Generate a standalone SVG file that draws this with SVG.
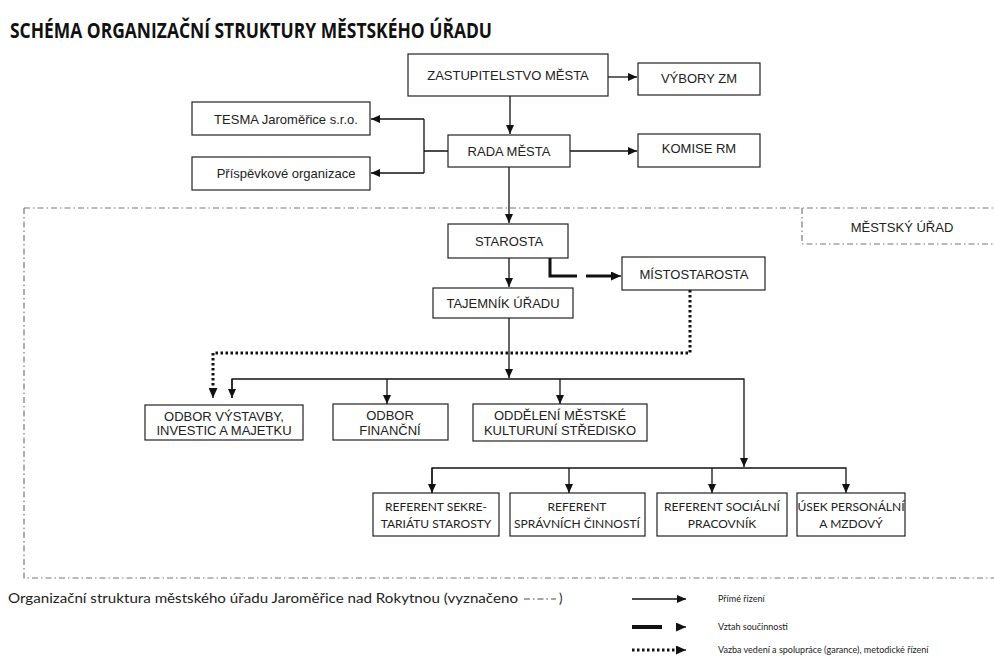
<svg xmlns="http://www.w3.org/2000/svg" width="994" height="657" viewBox="0 0 994 657">
<defs>
<marker id="ah" markerWidth="9" markerHeight="8" refX="9" refY="4" orient="auto" markerUnits="userSpaceOnUse"><path d="M0,0 L9,4 L0,8 Z" fill="#111"/></marker>
<marker id="ahb" markerWidth="10" markerHeight="9" refX="10" refY="4.5" orient="auto" markerUnits="userSpaceOnUse"><path d="M0,0 L10,4.5 L0,9 Z" fill="#111"/></marker>
<style>
.box{fill:#fff;stroke:#222;stroke-width:1.2}
.t{font-family:"Liberation Sans",Arial,sans-serif;font-size:13px;fill:#222;text-anchor:middle}
.c{font-family:Lato,"Open Sans",sans-serif;font-size:12px;fill:#222;text-anchor:middle}
.ln{fill:none;stroke:#111;stroke-width:1.3}
.thick{fill:none;stroke:#111;stroke-width:3}
.dot{fill:none;stroke:#111;stroke-width:3;stroke-dasharray:2.5 2.5}
.dd{fill:none;stroke:#777;stroke-width:1.2;stroke-dasharray:6 3 1.5 3}
.lg{font-family:Lato,"Open Sans",sans-serif;font-size:9px;fill:#222}
</style>
</defs>
<rect width="994" height="657" fill="#fff"/>
<text x="10" y="38" font-family="'Open Sans',Lato,sans-serif" font-weight="bold" font-size="21" fill="#111" textLength="482" lengthAdjust="spacingAndGlyphs">SCHÉMA ORGANIZAČNÍ STRUKTURY MĚSTSKÉHO ÚŘADU</text>

<g id="border">
<path class="dd" d="M24,208 H994 M24,208 V578 H994"/>
<path class="dd" d="M802,208 V244 H994"/>
<text x="902" y="232" class="t" fill="#444">MĚSTSKÝ ÚŘAD</text>
</g>

<g id="connectors">
<path class="ln" d="M510,96 V134" marker-end="url(#ah)"/>
<path class="ln" d="M608,77 H637" marker-end="url(#ah)"/>
<path class="ln" d="M570,151 H637" marker-end="url(#ah)"/>
<path class="ln" d="M448,151 H424 M424,119 V173"/>
<path class="ln" d="M424,119 H371" marker-end="url(#ah)"/>
<path class="ln" d="M424,173 H371" marker-end="url(#ah)"/>
<path class="ln" d="M509,167 V223" marker-end="url(#ah)"/>
<path class="ln" d="M509,258 V287" marker-end="url(#ah)"/>
<path class="thick" d="M550,258 V276 H577"/>
<path class="thick" d="M586,276 H612"/>
<path class="ln" d="M612,276 H621" marker-end="url(#ahb)"/>
<path class="dot" d="M690,290 V353 H213 V389"/>
<path class="ln" d="M213,389 V398" marker-end="url(#ahb)"/>
<path class="ln" d="M509,318 V378" marker-end="url(#ah)"/>
<path class="ln" d="M232,398 V379 H744 V467" marker-end="url(#ah)"/>
<path class="ln" d="M387,379 V404" marker-end="url(#ah)"/>
<path class="ln" d="M560,379 V404" marker-end="url(#ah)"/>
<path class="ln" d="M232,379 V398" marker-end="url(#ah)"/>
<path class="ln" d="M432,493 V468 H846 V493" marker-end="url(#ah)"/>
<path class="ln" d="M432,468 V493" marker-end="url(#ah)"/>
<path class="ln" d="M569,468 V493" marker-end="url(#ah)"/>
<path class="ln" d="M712,468 V493" marker-end="url(#ah)"/>
</g>

<g id="zastupitelstvo"><rect class="box" x="408" y="54" width="200" height="42"/><text class="t" x="508" y="80">ZASTUPITELSTVO MĚSTA</text></g>
<g id="vybory"><rect class="box" x="638" y="63" width="122" height="32"/><text class="t" x="699" y="83">VÝBORY ZM</text></g>
<g id="rada"><rect class="box" x="448" y="135" width="122" height="32"/><text class="t" x="509" y="156">RADA MĚSTA</text></g>
<g id="komise"><rect class="box" x="638" y="134" width="122" height="33"/><text class="t" x="699" y="153">KOMISE RM</text></g>
<g id="tesma"><rect class="box" x="192" y="102" width="178" height="33"/><text class="t" x="286" y="124">TESMA Jaroměřice s.r.o.</text></g>
<g id="prispevkove"><rect class="box" x="192" y="157" width="178" height="33"/><text class="t" x="286" y="178">Příspěvkové organizace</text></g>
<g id="starosta"><rect class="box" x="448" y="224" width="120" height="34"/><text class="t" x="509" y="246">STAROSTA</text></g>
<g id="mistostarosta"><rect class="box" x="622" y="257" width="143" height="33"/><text class="t" x="694" y="279">MÍSTOSTAROSTA</text></g>
<g id="tajemnik"><rect class="box" x="433" y="288" width="140" height="30"/><text class="t" x="503" y="308">TAJEMNÍK ÚŘADU</text></g>
<g id="odbor-vystavby"><rect class="box" x="145" y="405" width="158" height="35"/><text class="t" x="224" y="421">ODBOR VÝSTAVBY,</text><text class="t" x="224" y="435">INVESTIC A MAJETKU</text></g>
<g id="odbor-financni"><rect class="box" x="333" y="404" width="115" height="36"/><text class="t" x="390" y="420">ODBOR</text><text class="t" x="390" y="435">FINANČNÍ</text></g>
<g id="oddeleni"><rect class="box" x="473" y="404" width="174" height="37"/><text class="t" x="560" y="420">ODDĚLENÍ MĚSTSKÉ</text><text class="t" x="560" y="435">KULTURUNÍ STŘEDISKO</text></g>
<g id="ref-sekretariat"><rect class="box" x="373" y="493" width="126" height="43"/><text class="c" x="436" y="511">REFERENT SEKRE-</text><text class="c" x="436" y="528">TARIÁTU STAROSTY</text></g>
<g id="ref-spravni"><rect class="box" x="510" y="493" width="135" height="43"/><text class="c" x="577" y="511">REFERENT</text><text class="c" x="577" y="528">SPRÁVNÍCH ČINNOSTÍ</text></g>
<g id="ref-socialni"><rect class="box" x="657" y="493" width="130" height="43"/><text class="c" x="722" y="511">REFERENT SOCIÁLNÍ</text><text class="c" x="722" y="528">PRACOVNÍK</text></g>
<g id="usek-personalni"><rect class="box" x="797" y="493" width="108" height="43"/><text class="c" x="851" y="511">ÚSEK PERSONÁLNÍ</text><text class="c" x="851" y="528">A MZDOVÝ</text></g>

<g id="legend">
<text x="8" y="603" font-family="Lato,'Open Sans',sans-serif" font-size="13" fill="#222" textLength="510" lengthAdjust="spacingAndGlyphs">Organizační struktura městského úřadu Jaroměřice nad Rokytnou (vyznačeno</text>
<path d="M524,599 H556" fill="none" stroke="#888" stroke-width="1.5" stroke-dasharray="6 3 1.5 3"/>
<text x="559" y="603" font-family="Lato,'Open Sans',sans-serif" font-size="13" fill="#222">)</text>
<path class="ln" d="M632,599 H686" marker-end="url(#ah)"/>
<text class="lg" x="718" y="602">Přímé řízení</text>
<path d="M632,627 H662" fill="none" stroke="#111" stroke-width="4"/>
<path class="ln" d="M676,627 H686" marker-end="url(#ahb)"/>
<text class="lg" x="718" y="630">Vztah součinnosti</text>
<path class="dot" d="M632,650 H676"/>
<path class="ln" d="M676,650 H686" marker-end="url(#ahb)"/>
<text class="lg" x="718" y="653">Vazba vedení a spolupráce (garance), metodické řízení</text>
</g>
</svg>
